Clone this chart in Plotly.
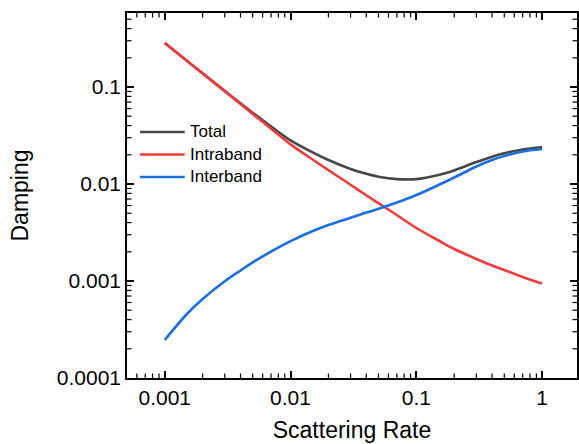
import math
import plotly.graph_objects as go

# Data
scattering_rate = [0.001, 0.0015, 0.002, 0.003, 0.004, 0.005, 0.007, 0.01, 0.015,
                   0.02, 0.03, 0.04, 0.05, 0.07, 0.1, 0.15, 0.2, 0.3, 0.4, 0.5,
                   0.7, 1.0]
intraband = [0.2842, 0.1861, 0.1377, 0.0902, 0.0668, 0.0528, 0.0372, 0.02562,
             0.01788, 0.01388, 0.00982, 0.00765, 0.00635, 0.00479, 0.00352, 0.002616,
             0.002137, 0.001686, 0.001444, 0.001298, 0.0011, 0.000942]
interband = [0.0002465, 0.000457, 0.000652, 0.000993, 0.001283, 0.001555, 0.002009,
             0.002572, 0.003277, 0.003778, 0.004481, 0.005072, 0.005551, 0.006447,
             0.007701, 0.009765, 0.011668, 0.015152, 0.017682, 0.019436, 0.021628,
             0.022949]
total = [0.28445, 0.18656, 0.13835, 0.09119, 0.06808, 0.05436, 0.03921, 0.02819,
         0.02116, 0.01766, 0.0143, 0.01272, 0.0119, 0.01124, 0.01122, 0.01238,
         0.01381, 0.01684, 0.01913, 0.02073, 0.02273, 0.02389]

series_names = ["Total", "Intraband", "Interband"]
series_colors = ["#474747", "#f23c3c", "#1a6fe3"]

x_major = [0.001, 0.01, 0.1, 1]
x_labels = ["0.001", "0.01", "0.1", "1"]
y_major = [0.0001, 0.001, 0.01, 0.1]
y_labels = ["0.0001", "0.001", "0.01", "0.1"]
minor_vals = [m * 10.0 ** e for e in range(-5, 1) for m in range(2, 10)]

X_RANGE = [-3.30, 0.277]
Y_RANGE = [-4, -0.237]

W, H = 579, 444
MARGIN = dict(l=127, r=0, t=13, b=66)
PLOT_W = W - MARGIN["l"] - MARGIN["r"]
PLOT_H = H - MARGIN["t"] - MARGIN["b"]

FONT = "Arial, 'Liberation Sans', sans-serif"

fig = go.Figure()
for name, ys, col in zip(series_names, [total, intraband, interband], series_colors):
    fig.add_trace(go.Scatter(x=scattering_rate, y=ys, mode="lines", name=name,
                             showlegend=False,
                             line=dict(color=col, width=2.6, shape="spline", smoothing=0.9)))

base = dict(type="log", showline=True, linecolor="black", linewidth=1.5,
            mirror="allticks", ticks="inside", tickcolor="black",
            showgrid=False, zeroline=False, tickmode="array")

fig.update_layout(
    xaxis=dict(**base, tickvals=x_major, ticktext=x_labels, ticklen=7, tickwidth=1.5,
               range=X_RANGE, tickfont=dict(family=FONT, size=21, color="black"),
               title=dict(text="Scattering Rate",
                          font=dict(family=FONT, size=23, color="black"), standoff=14)),
    yaxis=dict(**base, tickvals=y_major, ticktext=y_labels, ticklen=7, tickwidth=1.5,
               range=Y_RANGE, tickfont=dict(family=FONT, size=21, color="black"),
               title=dict(text="Damping",
                          font=dict(family=FONT, size=23, color="black"), standoff=22)),
)

# Minor (inside) ticks on all four sides, placed along the log axis ranges
MINOR_LEN = 4.5
tick_line = dict(color="black", width=1.2)
for v in minor_vals:
    lv = math.log10(v)
    if X_RANGE[0] < lv < X_RANGE[1]:
        fx = (lv - X_RANGE[0]) / (X_RANGE[1] - X_RANGE[0])
        dy = MINOR_LEN / PLOT_H
        fig.add_shape(type="line", xref="paper", yref="paper", x0=fx, x1=fx,
                      y0=0, y1=dy, line=tick_line)
        fig.add_shape(type="line", xref="paper", yref="paper", x0=fx, x1=fx,
                      y0=1 - dy, y1=1, line=tick_line)
    if Y_RANGE[0] < lv < Y_RANGE[1]:
        fy = (lv - Y_RANGE[0]) / (Y_RANGE[1] - Y_RANGE[0])
        dx = MINOR_LEN / PLOT_W
        fig.add_shape(type="line", xref="paper", yref="paper", x0=0, x1=dx,
                      y0=fy, y1=fy, line=tick_line)
        fig.add_shape(type="line", xref="paper", yref="paper", x0=1 - dx, x1=1,
                      y0=fy, y1=fy, line=tick_line)

# Legend drawn in paper coordinates (sample line + label per series)
legend_x0, legend_x1, legend_tx = 0.0288, 0.1283, 0.1350
legend_rows = [0.674, 0.6123, 0.5507]
for name, col, yy in zip(series_names, series_colors, legend_rows):
    fig.add_shape(type="line", xref="paper", yref="paper",
                  x0=legend_x0, x1=legend_x1, y0=yy, y1=yy,
                  line=dict(color=col, width=2.6))
    fig.add_annotation(x=legend_tx, y=yy, xref="paper", yref="paper",
                       text=name, showarrow=False, xanchor="left", yanchor="middle",
                       font=dict(family=FONT, size=17, color="black"))

fig.update_layout(
    width=W, height=H,
    margin=MARGIN,
    plot_bgcolor="white", paper_bgcolor="white",
    font=dict(family=FONT, color="black"),
    showlegend=False,
)

fig.write_html("out.html")
